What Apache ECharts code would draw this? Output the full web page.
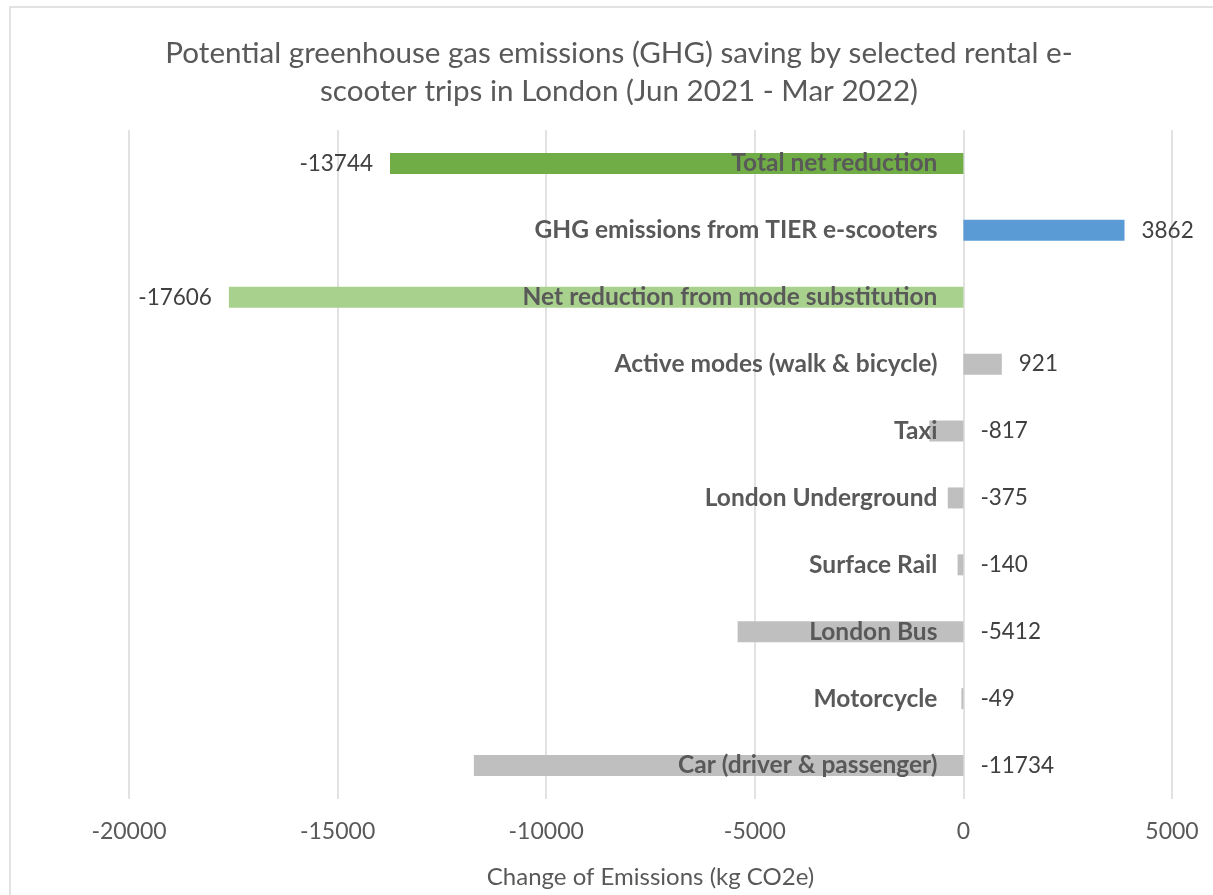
<!DOCTYPE html>
<html>
<head>
<meta charset="utf-8">
<title>GHG emissions saving by rental e-scooter trips in London</title>
<script src="https://cdn.jsdelivr.net/npm/echarts@6/dist/echarts.min.js"></script>
<style>
  html, body { margin: 0; padding: 0; background: #ffffff; }
  #chart { width: 1213px; height: 895px; }
</style>
</head>
<body>
<div id="chart"></div>
<script>
// Categories, top to bottom
const categories = [
  'Total net reduction',
  'GHG emissions from TIER e-scooters',
  'Net reduction from mode substitution',
  'Active modes (walk & bicycle)',
  'Taxi',
  'London Underground',
  'Surface Rail',
  'London Bus',
  'Motorcycle',
  'Car (driver & passenger)'
];

// Change of emissions, kg CO2e
const values = [-13744, 3862, -17606, 921, -817, -375, -140, -5412, -49, -11734];

// Group of each category: total, scooter, substitution, mode
const groups = ['total', 'scooter', 'substitution', 'mode', 'mode', 'mode', 'mode', 'mode', 'mode', 'mode'];

// X axis ticks
const xTicks = [-20000, -15000, -10000, -5000, 0, 5000];

const groupStyle = {
  total:        { color: '#70AD47', labelPos: 'left' },
  scooter:      { color: '#5B9BD5', labelPos: 'right' },
  substitution: { color: '#A9D18E', labelPos: 'left' },
  mode:         { color: '#BFBFBF', labelPos: 'right' }
};

const FONT = 'Lato, "Open Sans", sans-serif';
const GRID_LEFT = 129;

const chart = echarts.init(document.getElementById('chart'), null, { renderer: 'canvas' });

const seriesData = values.map((v, i) => {
  const st = groupStyle[groups[i]];
  return {
    value: v,
    itemStyle: { color: st.color },
    label: { position: st.labelPos }
  };
});

chart.setOption({
  animation: false,
  backgroundColor: '#ffffff',
  graphic: [{
    type: 'rect',
    shape: { x: 10, y: 7, width: 1220, height: 900 },
    style: { fill: 'none', stroke: '#d9d9d9', lineWidth: 1.5 },
    silent: true
  }],
  title: {
    text: 'Potential greenhouse gas emissions (GHG) saving by selected rental e-\nscooter trips in London (Jun 2021 - Mar 2022)',
    left: 614,
    top: 29,
    textAlign: 'center',
    textStyle: {
      fontFamily: FONT,
      fontSize: 29.6,
      fontWeight: 'normal',
      color: '#595959',
      lineHeight: 38
    }
  },
  grid: { left: GRID_LEFT, right: 41, top: 130, bottom: 96, outerBoundsMode: 'none', containLabel: false },
  xAxis: {
    type: 'value',
    min: xTicks[0],
    max: xTicks[xTicks.length - 1],
    interval: 5000,
    name: 'Change of Emissions (kg CO2e)',
    nameLocation: 'middle',
    nameGap: 66,
    nameTextStyle: { fontFamily: FONT, fontSize: 24, color: '#595959' },
    axisLine: { show: false },
    axisTick: { show: false },
    axisLabel: {
      fontFamily: FONT, fontSize: 23, color: '#595959', margin: 21,
      formatter: (v) => String(v)
    },
    splitLine: { show: true, lineStyle: { color: '#d9d9d9', width: 1.5 } }
  },
  yAxis: {
    type: 'category',
    data: categories,
    inverse: true,
    z: 10,
    axisLine: { show: false },
    axisTick: { show: false },
    axisLabel: {
      fontFamily: FONT,
      fontSize: 24.5,
      fontWeight: 'bold',
      color: '#595959',
      margin: 26
    },
    splitLine: { show: false }
  },
  series: [{
    type: 'bar',
    data: seriesData,
    barWidth: 21,
    label: {
      show: true,
      distance: 17,
      fontFamily: FONT,
      fontSize: 22.5,
      color: '#404040',
      formatter: (p) => String(p.value)
    }
  }]
});

// Category names sit beside the zero line: shift the category axis there
const zeroX = chart.convertToPixel({ xAxisIndex: 0 }, 0);
chart.setOption({ yAxis: { offset: -(zeroX - GRID_LEFT) } });
</script>
</body>
</html>
